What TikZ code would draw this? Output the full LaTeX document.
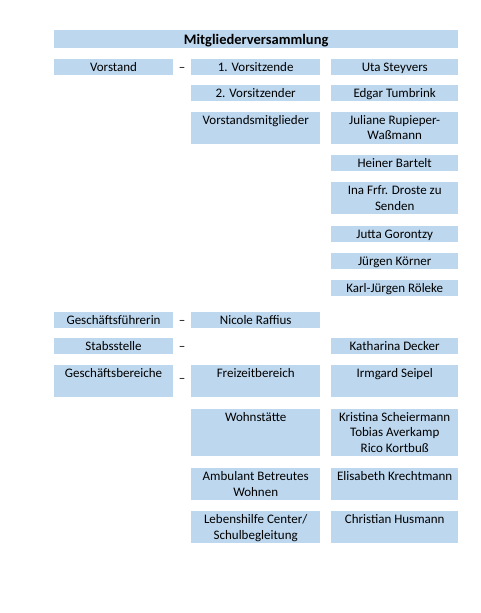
\documentclass[tikz,border=0pt]{standalone}
\usepackage{fontspec}
\setmainfont{Carlito}
\usetikzlibrary{positioning}
\definecolor{cfill}{HTML}{BDD7EE}
\definecolor{ctext}{HTML}{000000}
\tikzset{
  every picture/.style={font=\fontsize{13}{15.5}\selectfont, text=ctext},
  cell/.style={fill=cfill, inner sep=0pt, anchor=north west},
  sepmark/.style={inner sep=0pt, anchor=base},
}

\begin{document}
\begin{tikzpicture}[x=1pt, y=-1pt]
  \useasboundingbox (0,0) rectangle (481,613);
  % a box: name, left, top, width, height, text (set from the top)
  \newcommand{\cell}[6]{%
    \node[cell] (#1) at (#2,#3) {\parbox[t][#5pt][t]{#4pt}{\centering\rule{0pt}{12.5pt}#6}};}
  % title
  \node[cell] (mv) at (54,30) {\parbox[t][17.3pt][t]{404pt}{\centering\rule{0pt}{14pt}\bfseries\fontsize{14.5}{15.5}\selectfont Mitgliederversammlung}};
  % left column
  \cell{vorstand}{54}{59}{118.7}{15.3}{Vorstand}
  \cell{gf}{54}{312}{118.7}{15.7}{Geschäftsführerin}
  \cell{stab}{54}{338}{118.7}{15.7}{Stabsstelle}
  \cell{gb}{54}{365}{118.7}{32}{Geschäftsbereiche}
  % dashes
  \node[sepmark] (d1) at (182,71.5) {–};
  \node[sepmark] (d2) at (182,324.5) {–};
  \node[sepmark] (d3) at (182,350.5) {–};
  \node[sepmark] (d4) at (182,382) {–};
  % middle column
  \cell{vs1}{191}{59}{129}{15.3}{1. Vorsitzende}
  \cell{vs2}{191}{84.3}{129}{16}{2. Vorsitzender}
  \cell{vsm}{191}{111.7}{129}{31.6}{Vorstandsmitglieder}
  \cell{raffius}{191}{312}{129}{15.7}{Nicole Raffius}
  \cell{frei}{191}{365}{129}{32}{Freizeitbereich}
  \cell{wohn}{191}{408.3}{129}{47.4}{Wohnstätte}
  \cell{abw}{191}{468}{129}{31.7}{Ambulant Betreutes\\Wohnen}
  \cell{center}{191}{511}{129}{31.7}{Lebenshilfe Center/\\Schulbegleitung}
  % right column
  \cell{steyvers}{331}{59}{127}{15.3}{Uta Steyvers}
  \cell{tumbrink}{331}{84.3}{127}{16}{Edgar Tumbrink}
  \cell{rupieper}{331}{111.7}{127}{31.6}{Juliane Rupieper-\\Waßmann}
  \cell{bartelt}{331}{154.3}{127}{16.4}{Heiner Bartelt}
  \cell{droste}{331}{182}{127}{31.7}{Ina Frfr. Droste zu\\Senden}
  \cell{gorontzy}{331}{225.7}{127}{15.6}{Jutta Gorontzy}
  \cell{koerner}{331}{253}{127}{15.7}{Jürgen Körner}
  \cell{roeleke}{331}{280}{127}{15.7}{Karl-Jürgen Röleke}
  \cell{decker}{331}{338}{127}{15.7}{Katharina Decker}
  \cell{seipel}{331}{365}{127}{32}{Irmgard Seipel}
  \cell{wohnteam}{331}{408.3}{127}{47.4}{Kristina Scheiermann\\Tobias Averkamp\\Rico Kortbuß}
  \cell{krechtmann}{331}{468}{127}{31.7}{Elisabeth Krechtmann}
  \cell{husmann}{331}{511}{127}{31.7}{Christian Husmann}
\end{tikzpicture}
\end{document}
